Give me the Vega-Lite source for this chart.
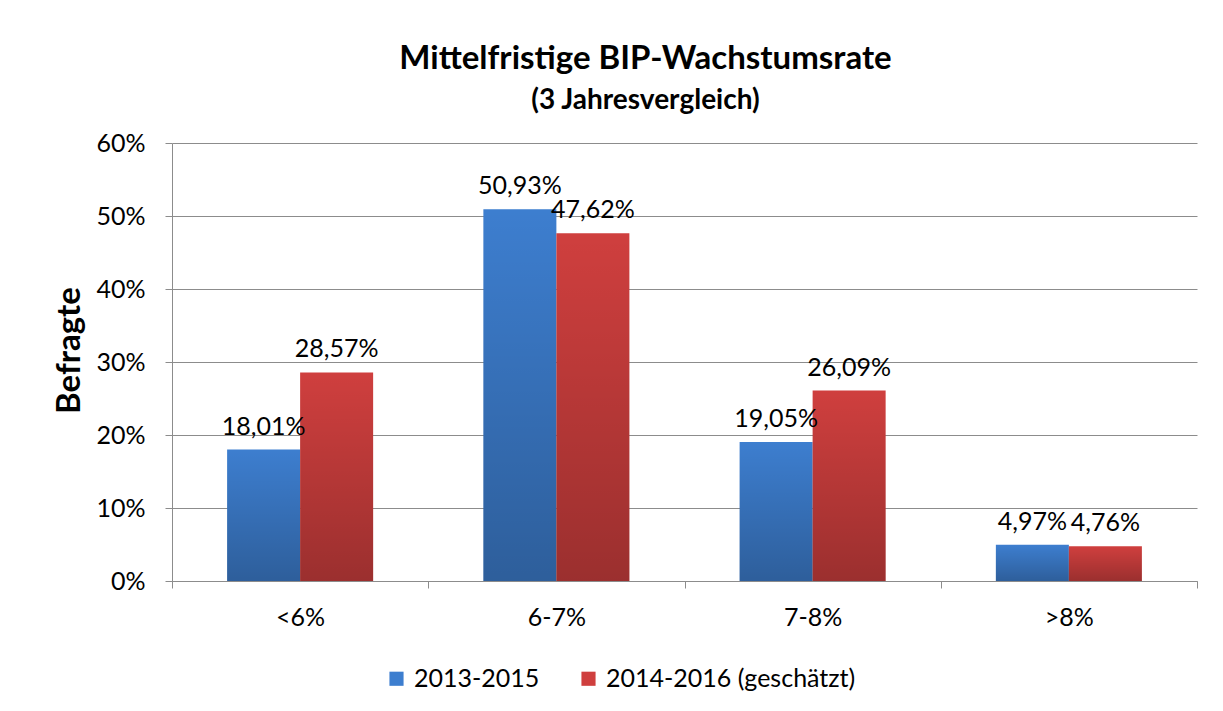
{
  "$schema": "https://vega.github.io/schema/vega-lite/v6.json",
  "width": 1025,
  "height": 438,
  "autosize": "none",
  "padding": {"left": 172, "top": 143, "right": 26, "bottom": 130},
  "background": "white",
  "title": {
    "text": "Mittelfristige BIP-Wachstumsrate",
    "subtitle": "(3 Jahresvergleich)",
    "anchor": "middle",
    "dx": -39,
    "offset": 16,
    "font": "Lato",
    "fontSize": 33,
    "fontWeight": "bold",
    "color": "black",
    "subtitleFont": "Lato",
    "subtitleFontSize": 28,
    "subtitleFontWeight": "bold",
    "subtitleColor": "black",
    "subtitlePadding": 11
  },
  "data": {
    "values": [
      {"cat": "<6%", "series": "2013-2015", "value": 0.1801},
      {"cat": "<6%", "series": "2014-2016 (geschätzt)", "value": 0.2857},
      {"cat": "6-7%", "series": "2013-2015", "value": 0.5093},
      {"cat": "6-7%", "series": "2014-2016 (geschätzt)", "value": 0.4762},
      {"cat": "7-8%", "series": "2013-2015", "value": 0.1905},
      {"cat": "7-8%", "series": "2014-2016 (geschätzt)", "value": 0.2609},
      {"cat": ">8%", "series": "2013-2015", "value": 0.0497},
      {"cat": ">8%", "series": "2014-2016 (geschätzt)", "value": 0.0476}
    ]
  },
  "encoding": {
    "x": {
      "field": "cat",
      "type": "nominal",
      "sort": ["<6%", "6-7%", "7-8%", ">8%"],
      "scale": {"paddingInner": 0, "paddingOuter": 0},
      "axis": {
        "title": null,
        "labelAngle": 0,
        "tickBand": "extent",
        "grid": false,
        "domainColor": "#8c8c8c",
        "tickColor": "#8c8c8c",
        "tickSize": 7,
        "labelFont": "Lato",
        "labelFontSize": 25,
        "labelColor": "black",
        "labelPadding": 17
      }
    },
    "xOffset": {
      "field": "series",
      "type": "nominal",
      "scale": {"paddingInner": 0, "paddingOuter": 0.755}
    },
    "y": {
      "field": "value",
      "type": "quantitative",
      "scale": {"domain": [0, 0.6]},
      "axis": {
        "title": "Befragte",
        "titleFont": "Lato",
        "titleFontSize": 33,
        "titleFontWeight": "bold",
        "titleColor": "black",
        "titlePadding": 9,
        "titleY": 207,
        "values": [0, 0.1, 0.2, 0.3, 0.4, 0.5, 0.6],
        "format": ".0%",
        "grid": true,
        "gridColor": "#8c8c8c",
        "gridWidth": 1,
        "domainColor": "#8c8c8c",
        "tickColor": "#8c8c8c",
        "tickSize": 7,
        "labelFont": "Lato",
        "labelFontSize": 25,
        "labelColor": "black",
        "labelPadding": 20
      }
    }
  },
  "layer": [
    {
      "mark": {"type": "bar"},
      "encoding": {
        "color": {
          "field": "series",
          "type": "nominal",
          "scale": {"domain": ["2013-2015", "2014-2016 (geschätzt)"], "range": ["#3d7ecf", "#cf3f3e"]},
          "legend": {
            "title": null,
            "orient": "none",
            "direction": "horizontal",
            "legendX": 212,
            "legendY": 523,
            "symbolType": "square",
            "symbolSize": 200,
            "symbolStrokeWidth": 0,
            "labelFont": "Lato",
            "labelFontSize": 25,
            "labelColor": "black",
            "labelOffset": 5,
            "columnPadding": 36,
            "labelLimit": 400
          }
        }
      }
    },
    {
      "mark": {
        "type": "bar",
        "fill": {
          "gradient": "linear",
          "x1": 0, "y1": 0, "x2": 0, "y2": 1,
          "stops": [
            {"offset": 0, "color": "rgba(0,0,0,0)"},
            {"offset": 1, "color": "rgba(0,0,0,0.25)"}
          ]
        }
      },
      "encoding": {}
    },
    {
      "mark": {
        "type": "text",
        "baseline": "bottom",
        "align": "center",
        "dy": -10,
        "font": "Lato",
        "fontSize": 25,
        "color": "black"
      },
      "encoding": {
        "text": {"field": "value", "type": "quantitative", "format": ".2%"}
      }
    }
  ],
  "config": {
    "view": {"stroke": null},
    "locale": {
      "number": {"decimal": ",", "thousands": ".", "grouping": [3], "currency": ["", " €"]}
    }
  }
}
